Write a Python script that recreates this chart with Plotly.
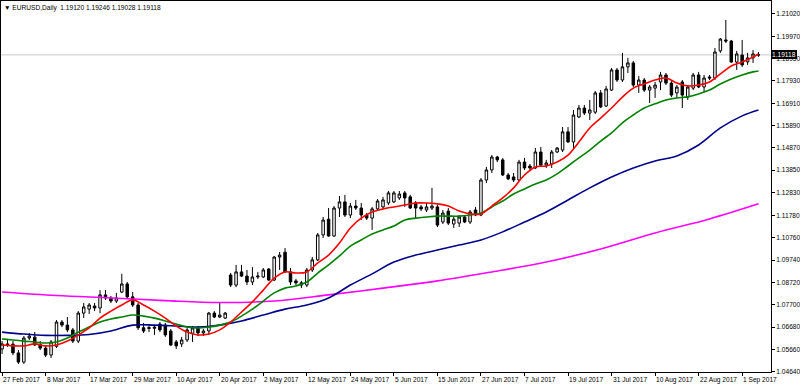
import plotly.graph_objects as go

# ---------------- data (EURUSD daily) ----------------
bars = list(range(140))

opens = [1.0568, 1.0591, 1.0590, 1.0550, 1.0508, 1.0618, 1.0622, 1.0588, 1.0572, 1.0540,
         1.0580, 1.0691, 1.0677, 1.0655, 1.0604, 1.0732, 1.0750, 1.0764, 1.0755, 1.0815,
         1.0801, 1.0787, 1.0828, 1.0865, 1.0806, 1.0769, 1.0665, 1.0666, 1.0662, 1.0682,
         1.0677, 1.0650, 1.0600, 1.0591, 1.0609, 1.0640, 1.0664, 1.0641, 1.0650, 1.0732,
         1.0714, 1.0709, 1.0906, 1.0860, 1.0920, 1.0901, 1.0874, 1.0897, 1.0897, 1.0933,
         1.0883, 1.0988, 1.1010, 1.0920, 1.0879, 1.0870, 1.0860, 1.0929, 1.0975, 1.1089,
         1.1161, 1.1084, 1.1212, 1.1240, 1.1180, 1.1221, 1.1212, 1.1180, 1.1166, 1.1208,
         1.1217, 1.1235, 1.1240, 1.1258, 1.1281, 1.1263, 1.1235, 1.1217, 1.1203, 1.1212,
         1.1217, 1.1148, 1.1198, 1.1139, 1.1143, 1.1171, 1.1148, 1.1203, 1.1180, 1.1340,
         1.1386, 1.1445, 1.1432, 1.1363, 1.1354, 1.1340, 1.1422, 1.1404, 1.1395, 1.1468,
         1.1408, 1.1413, 1.1468, 1.1477, 1.1560, 1.1514, 1.1628, 1.1669, 1.1646, 1.1650,
         1.1738, 1.1678, 1.1751, 1.1843, 1.1797, 1.1857, 1.1875, 1.1774, 1.1797, 1.1751,
         1.1760, 1.1788, 1.1820, 1.1783, 1.1738, 1.1788, 1.1719, 1.1760, 1.1820, 1.1765,
         1.1811, 1.1806, 1.1930, 1.1980, 1.1975, 1.1879, 1.1911, 1.1880, 1.1898, 1.19120]

highs = [1.0604, 1.0609, 1.0604, 1.0563, 1.0627, 1.0641, 1.0646, 1.0604, 1.0586, 1.0609,
         1.0700, 1.0700, 1.0714, 1.0664, 1.0741, 1.0778, 1.0778, 1.0778, 1.0837, 1.0837,
         1.0810, 1.0824, 1.0911, 1.0874, 1.0828, 1.0778, 1.0687, 1.0677, 1.0677, 1.0691,
         1.0687, 1.0659, 1.0609, 1.0623, 1.0668, 1.0673, 1.0673, 1.0659, 1.0737, 1.0741,
         1.0778, 1.0737, 1.0915, 1.0952, 1.0952, 1.0929, 1.0942, 1.0920, 1.0938, 1.0938,
         1.0993, 1.1011, 1.1029, 1.0938, 1.0888, 1.0879, 1.0938, 1.0988, 1.1098, 1.1171,
         1.1212, 1.1221, 1.1267, 1.1272, 1.1235, 1.1249, 1.1235, 1.1189, 1.1217, 1.1253,
         1.1263, 1.1290, 1.1290, 1.1290, 1.1290, 1.1272, 1.1244, 1.1226, 1.1235, 1.1304,
         1.1226, 1.1203, 1.1212, 1.1171, 1.1180, 1.1180, 1.1203, 1.1217, 1.1349, 1.1400,
         1.1454, 1.1450, 1.1440, 1.1372, 1.1372, 1.1432, 1.1441, 1.1413, 1.1486, 1.1491,
         1.1432, 1.1477, 1.1491, 1.1582, 1.1582, 1.1660, 1.1683, 1.1683, 1.1706, 1.1747,
         1.1751, 1.1770, 1.1852, 1.1852, 1.1921, 1.1898, 1.1884, 1.1815, 1.1806, 1.1774,
         1.1788, 1.1834, 1.1829, 1.1792, 1.1774, 1.1797, 1.1774, 1.1829, 1.1834, 1.1820,
         1.1820, 1.1943, 1.1989, 1.2071, 1.1980, 1.1930, 1.1980, 1.1921, 1.1934, 1.19246]

lows = [1.0545, 1.0577, 1.0540, 1.0499, 1.0500, 1.0609, 1.0582, 1.0563, 1.0531, 1.0527,
        1.0572, 1.0668, 1.0645, 1.0595, 1.0595, 1.0709, 1.0728, 1.0741, 1.0732, 1.0792,
        1.0778, 1.0778, 1.0823, 1.0801, 1.0760, 1.0655, 1.0641, 1.0645, 1.0632, 1.0645,
        1.0623, 1.0582, 1.0568, 1.0577, 1.0600, 1.0600, 1.0627, 1.0627, 1.0632, 1.0709,
        1.0709, 1.0705, 1.0851, 1.0851, 1.0897, 1.0860, 1.0860, 1.0888, 1.0892, 1.0879,
        1.0879, 1.0929, 1.0915, 1.0860, 1.0860, 1.0846, 1.0851, 1.0920, 1.0970, 1.1075,
        1.1080, 1.1080, 1.1171, 1.1171, 1.1166, 1.1203, 1.1157, 1.1157, 1.1112, 1.1203,
        1.1212, 1.1226, 1.1235, 1.1249, 1.1217, 1.1208, 1.1166, 1.1198, 1.1194, 1.1203,
        1.1125, 1.1139, 1.1134, 1.1121, 1.1125, 1.1143, 1.1139, 1.1175, 1.1175, 1.1326,
        1.1372, 1.1422, 1.1358, 1.1340, 1.1331, 1.1335, 1.1386, 1.1386, 1.1390, 1.1400,
        1.1395, 1.1395, 1.1463, 1.1468, 1.1509, 1.1486, 1.1623, 1.1637, 1.1614, 1.1641,
        1.1669, 1.1674, 1.1747, 1.1788, 1.1788, 1.1829, 1.1765, 1.1738, 1.1742, 1.1692,
        1.1715, 1.1751, 1.1774, 1.1719, 1.1715, 1.1669, 1.1706, 1.1751, 1.1760, 1.1742,
        1.1797, 1.1797, 1.1921, 1.1966, 1.1875, 1.1843, 1.1857, 1.1866, 1.1875, 1.19028]

closes = [1.0591, 1.0586, 1.0550, 1.0508, 1.0618, 1.0627, 1.0586, 1.0572, 1.0540, 1.0600,
          1.0691, 1.0677, 1.0655, 1.0604, 1.0732, 1.0760, 1.0769, 1.0755, 1.0815, 1.0801,
          1.0787, 1.0801, 1.0865, 1.0806, 1.0769, 1.0665, 1.0650, 1.0662, 1.0668, 1.0655,
          1.0632, 1.0586, 1.0582, 1.0609, 1.0655, 1.0664, 1.0641, 1.0650, 1.0732, 1.0714,
          1.0723, 1.0732, 1.0860, 1.0920, 1.0901, 1.0874, 1.0897, 1.0901, 1.0929, 1.0883,
          1.0988, 1.0997, 1.0920, 1.0874, 1.0870, 1.0860, 1.0929, 1.0975, 1.1089, 1.1157,
          1.1084, 1.1212, 1.1240, 1.1180, 1.1221, 1.1212, 1.1180, 1.1166, 1.1208, 1.1244,
          1.1249, 1.1281, 1.1281, 1.1276, 1.1258, 1.1212, 1.1212, 1.1208, 1.1217, 1.1221,
          1.1134, 1.1189, 1.1143, 1.1161, 1.1171, 1.1148, 1.1194, 1.1180, 1.1340, 1.1386,
          1.1445, 1.1432, 1.1363, 1.1345, 1.1340, 1.1422, 1.1395, 1.1395, 1.1468, 1.1408,
          1.1418, 1.1468, 1.1486, 1.1560, 1.1514, 1.1637, 1.1669, 1.1646, 1.1660, 1.1738,
          1.1674, 1.1756, 1.1843, 1.1797, 1.1857, 1.1875, 1.1774, 1.1797, 1.1751, 1.1765,
          1.1774, 1.1820, 1.1783, 1.1728, 1.1765, 1.1728, 1.1765, 1.1820, 1.1765, 1.1806,
          1.1806, 1.1925, 1.1984, 1.1975, 1.1879, 1.1916, 1.1866, 1.1898, 1.1916, 1.19118]

# moving averages as drawn on the chart (read at sampled bars)
ma_red_bars = [0, 2, 4, 6, 8, 10, 12, 14, 16, 18, 20, 22, 24, 26, 28, 30, 32, 34, 36, 38,
               40, 42, 44, 46, 48, 50, 52, 54, 56, 58, 60, 62, 64, 66, 68, 70, 72, 74, 76, 78,
               80, 82, 84, 86, 88, 90, 92, 94, 96, 98, 100, 102, 104, 106, 108, 110, 112, 114,
               116, 118, 120, 122, 124, 126, 128, 130, 132, 134, 136, 138, 139]
ma_red = [1.0586, 1.0582, 1.0582, 1.0591, 1.0582, 1.0586, 1.0604, 1.0632, 1.0664, 1.0709,
          1.0741, 1.0769, 1.0792, 1.0769, 1.0741, 1.0709, 1.0673, 1.0645, 1.0632, 1.0636,
          1.0655, 1.0691, 1.0737, 1.0783, 1.0837, 1.0892, 1.0920, 1.0915, 1.0920, 1.0961,
          1.0997, 1.1052, 1.1121, 1.1166, 1.1194, 1.1208, 1.1217, 1.1226, 1.1235, 1.1235,
          1.1231, 1.1221, 1.1198, 1.1185, 1.1185, 1.1221, 1.1258, 1.1304, 1.1363, 1.1400,
          1.1404, 1.1422, 1.1454, 1.1514, 1.1578, 1.1623, 1.1669, 1.1719, 1.1760, 1.1779,
          1.1797, 1.1806, 1.1783, 1.1770, 1.1774, 1.1788, 1.1825, 1.1861, 1.1879, 1.1902,
          1.1916]

ma_green_bars = ma_red_bars
ma_green = [1.0614, 1.0609, 1.0604, 1.0600, 1.0595, 1.0600, 1.0618, 1.0645, 1.0668, 1.0691,
            1.0705, 1.0714, 1.0723, 1.0718, 1.0709, 1.0696, 1.0682, 1.0668, 1.0664, 1.0668,
            1.0677, 1.0691, 1.0718, 1.0750, 1.0787, 1.0824, 1.0846, 1.0856, 1.0874, 1.0915,
            1.0952, 1.0993, 1.1038, 1.1066, 1.1093, 1.1112, 1.1130, 1.1157, 1.1166, 1.1171,
            1.1175, 1.1175, 1.1175, 1.1180, 1.1189, 1.1217, 1.1244, 1.1276, 1.1299, 1.1322,
            1.1340, 1.1368, 1.1404, 1.1441, 1.1477, 1.1518, 1.1555, 1.1601, 1.1637, 1.1669,
            1.1688, 1.1706, 1.1715, 1.1720, 1.1733, 1.1751, 1.1779, 1.1802, 1.1820, 1.1834,
            1.1838]

ma_blue_bars = [0, 4, 8, 12, 16, 20, 24, 28, 32, 36, 40, 44, 48, 52, 56, 60, 64, 68, 72, 76,
                80, 84, 88, 92, 96, 100, 104, 108, 112, 116, 120, 124, 128, 132, 136, 139]
ma_blue = [1.0645, 1.0636, 1.0630, 1.0630, 1.0634, 1.0650, 1.0677, 1.0677, 1.0673, 1.0668,
           1.0677, 1.0696, 1.0723, 1.0750, 1.0769, 1.0801, 1.0860, 1.0911, 1.0965, 1.0997,
           1.1020, 1.1043, 1.1066, 1.1103, 1.1148, 1.1194, 1.1249, 1.1304, 1.1354, 1.1395,
           1.1427, 1.1450, 1.1500, 1.1578, 1.1633, 1.1660]

ma_magenta_bars = [0, 10, 20, 30, 40, 50, 60, 70, 80, 90, 100, 110, 120, 130, 139]
ma_magenta = [1.0828, 1.0812, 1.0801, 1.0789, 1.0780, 1.0787, 1.0815, 1.0846, 1.0879,
              1.0920, 1.0965, 1.1025, 1.1098, 1.1162, 1.1231]

date_tick_bars = [0, 8, 16, 24, 32, 40, 48, 56, 64, 72, 80, 88, 96, 104, 112, 120, 128, 136]
date_labels = ["27 Feb 2017", "8 Mar 2017", "17 Mar 2017", "29 Mar 2017", "10 Apr 2017",
               "20 Apr 2017", "2 May 2017", "12 May 2017", "24 May 2017", "5 Jun 2017",
               "15 Jun 2017", "27 Jun 2017", "7 Jul 2017", "19 Jul 2017", "31 Jul 2017",
               "10 Aug 2017", "22 Aug 2017", "1 Sep 2017"]

price_ticks = [1.21020, 1.19970, 1.18950, 1.17930, 1.16910, 1.15890, 1.14870, 1.13850,
               1.12830, 1.11780, 1.10760, 1.09740, 1.08720, 1.07700, 1.06680, 1.05660, 1.04640]

symbol_title = "EURUSD,Daily"

# ---------------- figure ----------------
FONT = "Liberation Sans, Arial, sans-serif"
FS = 6.6

fig = go.Figure()

fig.add_trace(go.Scatter(x=ma_magenta_bars, y=ma_magenta, mode="lines",
                         line=dict(color="#ff00ff", width=1.6, shape="spline"), hoverinfo="skip"))
fig.add_trace(go.Scatter(x=ma_blue_bars, y=ma_blue, mode="lines",
                         line=dict(color="#00008b", width=1.6, shape="spline"), hoverinfo="skip"))

fig.add_trace(go.Candlestick(
    x=bars, open=opens, high=highs, low=lows, close=closes,
    increasing=dict(fillcolor="#ffffff", line=dict(color="#000000", width=1)),
    decreasing=dict(fillcolor="#000000", line=dict(color="#000000", width=1)),
    whiskerwidth=0, hoverinfo="skip"))

fig.add_trace(go.Scatter(x=ma_green_bars, y=ma_green, mode="lines",
                         line=dict(color="#008000", width=1.6, shape="spline"), hoverinfo="skip"))
fig.add_trace(go.Scatter(x=ma_red_bars, y=ma_red, mode="lines",
                         line=dict(color="#ff0000", width=1.6, shape="spline"), hoverinfo="skip"))

last_close = closes[-1]

annotations = []
for b, lab in zip(date_tick_bars, date_labels):
    annotations.append(dict(x=b, xref="x", y=0, yref="paper", text=lab, showarrow=False,
                            xanchor="left", yanchor="top", yshift=-2, xshift=-1,
                            font=dict(family=FONT, size=FS, color="#000000")))

nb = "\u00a0"
title = (f"\u25bc{nb}{symbol_title}{nb}{nb}{opens[-1]:.5f}{nb}{highs[-1]:.5f}"
         f"{nb}{lows[-1]:.5f}{nb}{closes[-1]:.5f}")
annotations.append(dict(x=0, xref="paper", y=1, yref="paper", text=title, showarrow=False,
                        xanchor="left", yanchor="top", xshift=1, yshift=-1,
                        font=dict(family=FONT, size=FS, color="#000000")))

annotations.append(dict(x=1, xref="paper", y=last_close, yref="y", text=f"{last_close:.5f}",
                        showarrow=False, xanchor="left", yanchor="middle", xshift=0,
                        bgcolor="#000000", borderpad=1, borderwidth=0,
                        font=dict(family=FONT, size=FS, color="#ffffff")))

fig.update_layout(
    width=800, height=388,
    margin=dict(l=1, r=29, t=1, b=16),
    paper_bgcolor="#ffffff", plot_bgcolor="#ffffff",
    showlegend=False,
    boxgap=0.35,
    annotations=annotations,
    shapes=[dict(type="line", xref="paper", x0=0, x1=1, yref="y", y0=last_close, y1=last_close,
                 line=dict(color="#c8c8c8", width=1), layer="below")],
    xaxis=dict(range=[-0.2, 141.3], rangeslider=dict(visible=False), showgrid=False,
               zeroline=False, showline=True, mirror=True, linecolor="#000000", linewidth=1,
               ticks="outside", ticklen=3, tickcolor="#000000", tickvals=date_tick_bars,
               showticklabels=False, fixedrange=True, automargin=False),
    yaxis=dict(side="right", range=[1.04627, 1.2158], showgrid=False, zeroline=False,
               showline=True, mirror=True, linecolor="#000000", linewidth=1,
               ticks="outside", ticklen=3, tickcolor="#000000",
               tickvals=price_ticks, ticktext=[f"{v:.5f}" for v in price_ticks],
               tickfont=dict(family=FONT, size=FS, color="#000000"), fixedrange=True,
               automargin=False),
)

fig.write_html("out.html", config={"displayModeBar": False},
               post_script="document.body.style.margin='0';document.body.style.padding='0';")
